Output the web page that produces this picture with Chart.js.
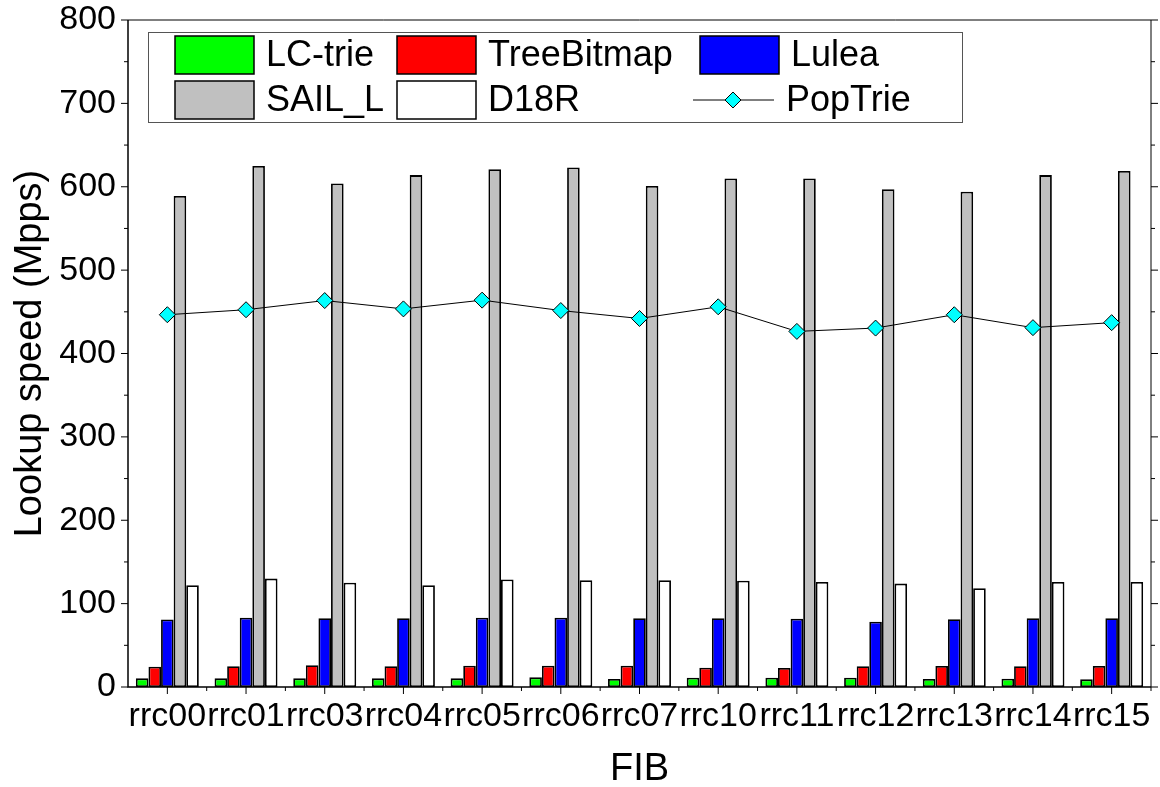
<!DOCTYPE html>
<html>
<head>
<meta charset="utf-8">
<script src="https://cdn.jsdelivr.net/npm/chart.js@4.4.0/dist/chart.umd.min.js"></script>
<style>
  html, body { margin: 0; padding: 0; background: #fff; }
  #wrap { width: 1160px; height: 787px; }
</style>
</head>
<body>
<div id="wrap"><canvas id="chart" width="1160" height="787"></canvas></div>
<script>
// FIB tables and measured lookup speeds (Mpps)
const fibs = ['rrc00', 'rrc01', 'rrc03', 'rrc04', 'rrc05', 'rrc06', 'rrc07',
              'rrc10', 'rrc11', 'rrc12', 'rrc13', 'rrc14', 'rrc15'];
const lcTrie     = [10.4, 10.4, 10.4, 10.4, 10.4, 11.6, 9.6, 11.2, 11.2, 11.2, 9.6, 10, 9.2];
const treeBitmap = [24.4, 25, 26, 25, 25.6, 25.6, 25.6, 23.2, 22.8, 24.8, 25.2, 25, 25.2];
const lulea      = [81, 83, 82.5, 82.5, 83.2, 83, 82.5, 82.5, 82, 78.4, 81.3, 82.5, 82.5];
const sailL      = [589, 625, 604, 614, 621, 623, 601, 610, 610, 597, 594, 614, 619];
const d18r       = [122, 130, 125, 122, 129, 128, 128, 127.5, 126, 124, 118.5, 126, 126];
const popTrie    = [446.5, 452.5, 463.5, 453.5, 464, 451.5, 442, 456, 426.5, 430.5, 446.5, 431, 437];
const yTicks = [0, 100, 200, 300, 400, 500, 600, 700, 800];

const FONT = 'Liberation Sans, Arial, sans-serif';

/**
 * Axis frame with outward tick marks (major on labels, minor in between)
 */
const frameTicks = {
    id: 'frameTicks',
    afterDraw(chart) {
        const { ctx, chartArea: a, scales: { x, y } } = chart;
        ctx.save();
        ctx.strokeStyle = '#000';
        ctx.lineWidth = 1;
        ctx.beginPath();
        ctx.moveTo(a.left, a.top); ctx.lineTo(a.right, a.top); ctx.lineTo(a.right, a.bottom);
        ctx.stroke();
        ctx.lineWidth = 1.5;
        ctx.beginPath();
        ctx.moveTo(a.left, a.top); ctx.lineTo(a.left, a.bottom); ctx.lineTo(a.right, a.bottom);
        ctx.stroke();

        // y ticks, left and right
        const step = yTicks[1] - yTicks[0];
        ctx.lineWidth = 1;
        for (let v = y.min; v <= y.max; v += step / 2) {
            const py = y.getPixelForValue(v);
            const len = v % step === 0 ? 7 : 4;
            ctx.beginPath();
            ctx.moveTo(a.left - len, py); ctx.lineTo(a.left, py);
            ctx.moveTo(a.right, py); ctx.lineTo(a.right + len, py);
            ctx.stroke();
        }
        // x ticks: major at categories, minor at boundaries
        const half = (x.getPixelForValue(1) - x.getPixelForValue(0)) / 2;
        fibs.forEach((_, i) => {
            const px = x.getPixelForValue(i);
            ctx.beginPath();
            ctx.moveTo(px, a.bottom); ctx.lineTo(px, a.bottom + 7);
            ctx.moveTo(px + half, a.bottom); ctx.lineTo(px + half, a.bottom + 4);
            ctx.stroke();
        });
        ctx.restore();
    }
};

/**
 * Boxed legend inside the plot, three columns by two rows
 */
const boxLegend = {
    id: 'boxLegend',
    afterDraw(chart) {
        const { ctx, chartArea: a } = chart;
        const left = a.left + 20, top = a.top + 12;
        ctx.save();
        ctx.fillStyle = '#fff';
        ctx.fillRect(left, top, 814, 90);
        ctx.strokeStyle = '#555';
        ctx.lineWidth = 1;
        ctx.strokeRect(left + 0.5, top + 0.5, 814, 90);

        ctx.font = '36px ' + FONT;
        ctx.textBaseline = 'middle';
        const colX = [27, 249, 552];
        const rowY = [23, 68];
        chart.data.datasets.forEach((ds, i) => {
            const cx = left + colX[i % 3];
            const cy = top + rowY[Math.floor(i / 3)];
            if (ds.type === 'line') {
                ctx.strokeStyle = '#000';
                ctx.lineWidth = 1;
                ctx.beginPath();
                ctx.moveTo(cx - 7, cy); ctx.lineTo(cx + 74, cy);
                ctx.stroke();
                ctx.fillStyle = ds.pointBackgroundColor;
                ctx.beginPath();
                ctx.moveTo(cx + 33, cy - 8); ctx.lineTo(cx + 41, cy);
                ctx.lineTo(cx + 33, cy + 8); ctx.lineTo(cx + 25, cy);
                ctx.closePath(); ctx.fill(); ctx.stroke();
                ctx.fillStyle = '#000';
                ctx.fillText(ds.label, cx + 86, cy + 1);
            } else {
                ctx.fillStyle = ds.backgroundColor;
                ctx.fillRect(cx, cy - 19, 79, 38);
                ctx.strokeStyle = '#000';
                ctx.lineWidth = 1.5;
                ctx.strokeRect(cx, cy - 19, 79, 38);
                ctx.fillStyle = '#000';
                ctx.fillText(ds.label, cx + 91, cy + 1);
            }
        });
        ctx.restore();
    }
};

function barSet(label, data, color) {
    return {
        type: 'bar', label, data,
        backgroundColor: color,
        borderColor: '#000',
        borderWidth: 1.8,
        borderSkipped: false
    };
}

new Chart(document.getElementById('chart').getContext('2d'), {
    data: {
        labels: fibs,
        datasets: [
            barSet('LC-trie', lcTrie, '#00ff00'),
            barSet('TreeBitmap', treeBitmap, '#ff0000'),
            barSet('Lulea', lulea, '#0000ff'),
            barSet('SAIL_L', sailL, '#c0c0c0'),
            barSet('D18R', d18r, '#ffffff'),
            {
                type: 'line', label: 'PopTrie', data: popTrie, order: -1,
                borderColor: '#000', borderWidth: 1,
                pointStyle: 'rectRot', pointRadius: 8,
                pointBackgroundColor: '#00ffff', pointBorderColor: '#000', pointBorderWidth: 1
            }
        ]
    },
    options: {
        responsive: false,
        animation: false,
        devicePixelRatio: 1,
        layout: { padding: { top: 20, right: 7, left: 0, bottom: 0 } },
        datasets: { bar: { categoryPercentage: 0.8, barPercentage: 1.0 } },
        plugins: { legend: { display: false }, tooltip: { enabled: false } },
        scales: {
            x: {
                grid: { display: false, drawTicks: false },
                border: { display: false },
                ticks: { color: '#000', font: { family: FONT, size: 34 }, padding: 9, maxRotation: 0, autoSkip: false },
                title: { display: true, text: 'FIB', color: '#000', font: { family: FONT, size: 38, lineHeight: 1 }, padding: { top: 8, bottom: -2 } },
                afterFit: (s) => { s.height = 100; s.paddingLeft = 0; s.paddingRight = 0; }
            },
            y: {
                min: 0, max: 800,
                grid: { display: false, drawTicks: false },
                border: { display: false },
                ticks: { stepSize: 100, color: '#000', font: { family: FONT, size: 34 }, padding: 12 },
                title: { display: true, text: 'Lookup speed (Mpps)', color: '#000', font: { family: FONT, size: 38 }, padding: { top: 8, bottom: 0 } },
                afterFit: (s) => { s.width = 128; s.paddingTop = 0; s.paddingBottom = 0; }
            }
        }
    },
    plugins: [frameTicks, boxLegend]
});
</script>
</body>
</html>
